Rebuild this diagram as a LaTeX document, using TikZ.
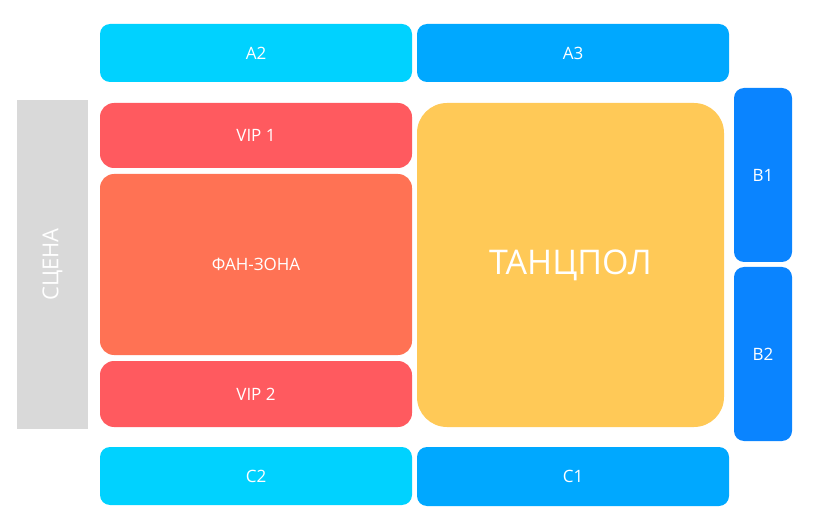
\documentclass[tikz,border=0pt]{standalone}
\usepackage{fontspec}
\setmainfont{Open Sans}
\usepackage{tikz}
\usetikzlibrary{positioning}
\definecolor{sectorlight}{HTML}{00D2FF}
\definecolor{sectormid}{HTML}{00A8FF}
\definecolor{sectordeep}{HTML}{0A84FF}
\definecolor{vipred}{HTML}{FF5A5F}
\definecolor{fanorange}{HTML}{FF7254}
\definecolor{dancegold}{HTML}{FFC957}
\definecolor{stagegray}{HTML}{D9D9D9}

\begin{document}
\begin{tikzpicture}[
    x=1pt, y=-1pt,
    zone/.style={inner sep=0pt, text=white, font=\fontsize{17}{20}\selectfont},
    seat/.style={zone, rounded corners=10pt, minimum width=312pt, minimum height=58pt},
    side seat/.style={zone, rounded corners=10pt, fill=sectordeep, minimum width=58pt, minimum height=174pt},
    floor/.style={zone, rounded corners=14pt, minimum width=312pt}
    ]
   \useasboundingbox (0,0) rectangle (823,524);
   % stage
   \node[zone, fill=stagegray, minimum width=71pt, minimum height=329pt] (stage) at (52.5,264.5) {};
   \node[zone, rotate=90, font=\fontsize{22}{26}\selectfont] (stagelabel) at (stage.center) {СЦЕНА};
   % top and bottom sectors
   \node[seat, fill=sectorlight] (a2) at (256,53) {A2};
   \node[seat, fill=sectormid] (a3) at (573,53) {A3};
   \node[seat, fill=sectorlight] (c2) at (256,476) {C2};
   \node[seat, fill=sectormid, minimum height=59pt] (c1) at (573,476.5) {C1};
   % floor zones
   \node[floor, fill=vipred, minimum height=65pt] (vip1) at (256,135.5) {VIP 1};
   \node[floor, fill=fanorange, minimum height=181pt] (fan) at (256,264.5) {ФАН-ЗОНА};
   \node[floor, fill=vipred, minimum height=66pt] (vip2) at (256,394) {VIP 2};
   \node[zone, rounded corners=30pt, fill=dancegold, minimum width=307pt, minimum height=324pt,
         font=\fontsize{34}{40}\selectfont] (dance) at (570.5,265) {ТАНЦПОЛ};
   % side sectors
   \node[side seat] (b1) at (763,175) {B1};
   \node[side seat] (b2) at (763,354) {B2};
\end{tikzpicture}
\end{document}
